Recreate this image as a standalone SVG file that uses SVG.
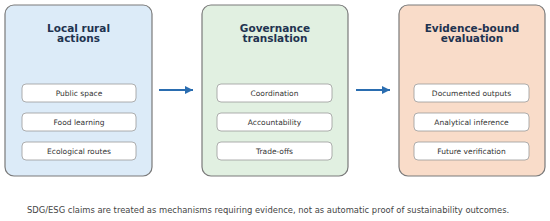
<svg xmlns="http://www.w3.org/2000/svg" width="550" height="221" viewBox="0 0 550 221">
<defs>
<style>
.panel{stroke:#7a7a7a;stroke-width:1.2}
.title{font-family:"DejaVu Sans",sans-serif;font-weight:bold;font-size:10.5px;fill:#1f3350;text-anchor:middle}
.item rect{fill:#ffffff;stroke:#9a9a9a;stroke-width:0.8}
.item text{font-family:"DejaVu Sans",sans-serif;font-size:7.5px;fill:#333333;text-anchor:middle}
.conn{stroke:#2a6db0;stroke-width:2;fill:none}
.foot{font-family:"DejaVu Sans",sans-serif;font-size:8.4px;fill:#444444}
</style>
<marker id="ah" viewBox="0 0 10 10" refX="10" refY="5" markerWidth="4" markerHeight="4" markerUnits="strokeWidth" orient="auto">
<path d="M0,0 L10,5 L0,10 z" fill="#2a6db0"/>
</marker>
</defs>
<rect width="550" height="221" fill="#ffffff"/>
<g id="panel-local">
<rect class="panel" x="5" y="5" width="147" height="171" rx="9" fill="#dcebf8"/>
<text class="title" x="78.5" y="31.5">Local rural</text>
<text class="title" x="78.5" y="42">actions</text>
<g class="item"><rect x="22" y="84" width="114" height="18" rx="4"/><text x="79" y="95.6">Public space</text></g>
<g class="item"><rect x="22" y="113" width="114" height="18" rx="4"/><text x="79" y="124.6">Food learning</text></g>
<g class="item"><rect x="22" y="142" width="114" height="18" rx="4"/><text x="79" y="153.6">Ecological routes</text></g>
</g>
<g id="panel-governance">
<rect class="panel" x="202" y="5" width="146" height="171" rx="9" fill="#e1f0e1"/>
<text class="title" x="275" y="31.5">Governance</text>
<text class="title" x="275" y="42">translation</text>
<g class="item"><rect x="217" y="84" width="115" height="18" rx="4"/><text x="274.5" y="95.6">Coordination</text></g>
<g class="item"><rect x="217" y="113" width="115" height="18" rx="4"/><text x="274.5" y="124.6">Accountability</text></g>
<g class="item"><rect x="217" y="142" width="115" height="18" rx="4"/><text x="274.5" y="153.6">Trade-offs</text></g>
</g>
<g id="panel-evidence">
<rect class="panel" x="399" y="5" width="146" height="171" rx="9" fill="#f9dcc9"/>
<text class="title" x="472" y="31.5">Evidence-bound</text>
<text class="title" x="472" y="42">evaluation</text>
<g class="item"><rect x="414" y="84" width="115" height="18" rx="4"/><text x="471.5" y="95.6">Documented outputs</text></g>
<g class="item"><rect x="414" y="113" width="115" height="18" rx="4"/><text x="471.5" y="124.6">Analytical inference</text></g>
<g class="item"><rect x="414" y="142" width="115" height="18" rx="4"/><text x="471.5" y="153.6">Future verification</text></g>
</g>
<g id="connectors">
<line class="conn" x1="159" y1="90" x2="193" y2="90" marker-end="url(#ah)"/>
<line class="conn" x1="356" y1="90" x2="390" y2="90" marker-end="url(#ah)"/>
</g>
<text class="foot" x="27" y="213">SDG/ESG claims are treated as mechanisms requiring evidence, not as automatic proof of sustainability outcomes.</text>
</svg>
